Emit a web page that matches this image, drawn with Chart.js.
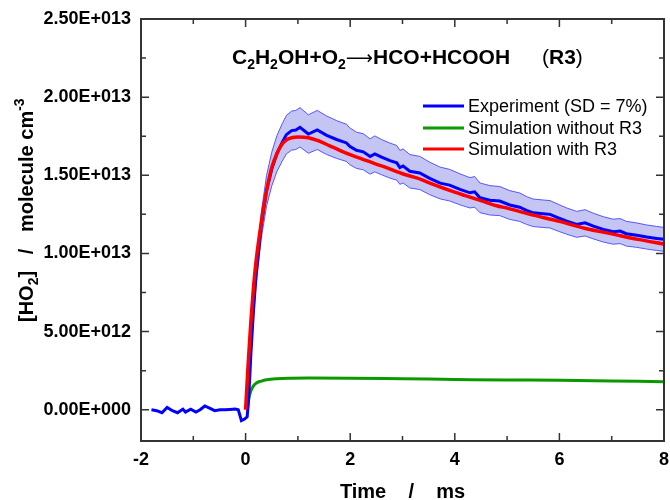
<!DOCTYPE html>
<html>
<head>
<meta charset="utf-8">
<script src="https://cdn.jsdelivr.net/npm/chart.js@4"></script>
<style>
  html, body { margin: 0; padding: 0; background: #fff; }
  #wrap { width: 670px; height: 500px; position: relative; }
</style>
</head>
<body>
<div id="wrap"><canvas id="chartHO2"></canvas></div>
<script>
// Data (time in ms, [HO2] in units of 1E+012 molecule cm-3)
const expTime = [
  -1.8, -1.7, -1.6, -1.5, -1.4, -1.3, -1.2, -1.15, -1.05, -0.95,
  -0.87, -0.78, -0.68, -0.59, -0.49, -0.4, -0.3, -0.2, -0.14, -0.08,
  -0.02, 0.03, 0.06, 0.1, 0.15, 0.2, 0.3, 0.4, 0.5, 0.6,
  0.7, 0.78, 0.88, 0.96, 1.04, 1.2, 1.37, 1.55, 1.74, 1.93,
  1.99, 2.12, 2.25, 2.38, 2.47, 2.6, 2.76, 2.89, 2.95, 3.01,
  3.14, 3.33, 3.52, 3.72, 3.9, 4.1, 4.29, 4.38, 4.48, 4.67,
  4.86, 5.05, 5.24, 5.37, 5.5, 5.69, 5.82, 5.98, 6.14, 6.33,
  6.49, 6.65, 6.84, 7.03, 7.16, 7.28, 7.48, 7.67, 7.86, 8.0,
];
const expValue = [
  0.0, -0.06, -0.19, 0.15, -0.06, -0.19, 0.04, -0.15, 0.04, -0.15,
  0.0, 0.24, 0.09, -0.06, 0.0, 0.0, 0.02, 0.04, 0.0, -0.7,
  -0.6, -0.45, 0.8, 3.5, 6.3, 8.6, 11.8, 14.0, 15.4, 16.4,
  17.1, 17.6, 17.86, 17.9, 18.07, 17.64, 17.9, 17.56, 17.29, 17.07,
  16.86, 16.6, 16.5, 16.2, 16.37, 16.16, 15.94, 15.8, 15.5, 15.6,
  15.26, 15.15, 14.8, 14.5, 14.37, 14.1, 13.88, 13.94, 13.56, 13.4,
  13.35, 13.1, 12.96, 12.75, 12.6, 12.54, 12.5, 12.28, 12.07, 11.86,
  11.96, 11.75, 11.54, 11.39, 11.43, 11.26, 11.17, 11.05, 10.96, 10.9,
];

// SD band (±7%) read along the experiment from t = 0.06 ms
const bandTime = expTime.slice(22);
const bandUpper = [
  0.86, 3.75, 6.74, 9.2, 12.63, 14.98, 16.48, 17.55,
  18.3, 18.83, 19.11, 19.15, 19.33, 18.87, 19.15, 18.79, 18.5, 18.26,
  18.04, 17.76, 17.66, 17.33, 17.52, 17.29, 17.06, 16.91, 16.59, 16.69,
  16.33, 16.21, 15.84, 15.52, 15.38, 15.09, 14.85, 14.92, 14.51, 14.34,
  14.28, 14.02, 13.87, 13.64, 13.48, 13.42, 13.38, 13.14, 12.91, 12.69,
  12.8, 12.57, 12.35, 12.19, 12.23, 12.05, 11.95, 11.82, 11.73, 11.66,
];
const bandLower = [
  0.74, 3.26, 5.86, 8.0, 10.97, 13.02, 14.32, 15.25,
  15.9, 16.37, 16.61, 16.65, 16.81, 16.41, 16.65, 16.33, 16.08, 15.88,
  15.68, 15.44, 15.35, 15.07, 15.22, 15.03, 14.82, 14.69, 14.42, 14.51,
  14.19, 14.09, 13.76, 13.49, 13.36, 13.11, 12.91, 12.96, 12.61, 12.46,
  12.42, 12.18, 12.05, 11.86, 11.72, 11.66, 11.63, 11.42, 11.23, 11.03,
  11.12, 10.93, 10.73, 10.59, 10.63, 10.47, 10.39, 10.28, 10.19, 10.14,
];

const simTime = [
  0, 0.05, 0.1, 0.15, 0.2, 0.3, 0.4, 0.5, 0.6, 0.7,
  0.8, 0.9, 1.0, 1.2, 1.4, 1.6, 1.8, 2.0, 2.3, 2.6,
  3.0, 3.3, 3.6, 3.9, 4.2, 4.5, 4.8, 5.0, 5.5, 6.0,
  6.5, 7.0, 7.5, 8.0,
];
const simWithR3 = [
  0, 3.0, 5.6, 7.8, 9.5, 12.0, 14.0, 15.5, 16.4, 17.0,
  17.3, 17.42, 17.45, 17.4, 17.2, 16.9, 16.6, 16.32, 15.95, 15.6,
  15.1, 14.8, 14.4, 14.03, 13.7, 13.38, 13.05, 12.9, 12.45, 12.05,
  11.6, 11.25, 10.9, 10.6,
];

const noR3Time = [0.04, 0.06, 0.1, 0.15, 0.2, 0.3, 0.4, 0.6, 0.85, 1.2, 2, 3, 4, 5, 6, 7, 8];
const simWithoutR3 = [0.1, 0.7, 1.2, 1.53, 1.7, 1.83, 1.92, 1.99, 2.02, 2.03, 2.02, 1.98, 1.94, 1.9, 1.89, 1.84, 1.79];

const legendLabels = ["Experiment (SD = 7%)", "Simulation without R3", "Simulation with R3"];
const legendColors = ["#0000ff", "#0a9a00", "#ff0000"];

const fontFamily = "'Liberation Sans', Arial, sans-serif";

function toPoints(xs, ys) {
  return xs.map((x, i) => ({ x: x, y: ys[i] }));
}

// "2.50E+013" style labels
function sciLabel(v) {
  const val = v * 1e12;
  if (Math.abs(val) < 1) return "0.00E+000";
  const e = Math.floor(Math.log10(Math.abs(val)) + 1e-9);
  const m = val / Math.pow(10, e);
  return m.toFixed(2) + "E+" + String(e).padStart(3, "0");
}

function drawRuns(ctx, runs, x, y) {
  let cx = x;
  runs.forEach((r) => {
    ctx.font = r.font;
    ctx.fillText(r.text, cx, y + (r.dy || 0));
    cx += ctx.measureText(r.text).width;
  });
}

const overlay = {
  id: "overlay",
  afterDraw(chart) {
    const { ctx, chartArea: a, scales } = chart;
    const x = scales.x, y = scales.y;
    ctx.save();

    // inward ticks on all four sides
    ctx.strokeStyle = "#333";
    ctx.lineWidth = 1.5;
    ctx.beginPath();
    for (let t = -1; t < 8; t++) {
      const px = x.getPixelForValue(t);
      const len = t % 2 === 0 ? 8 : 5;
      ctx.moveTo(px, a.bottom); ctx.lineTo(px, a.bottom - len);
      ctx.moveTo(px, a.top); ctx.lineTo(px, a.top + len);
    }
    for (let v = 0; v < 25; v += 2.5) {
      const py = y.getPixelForValue(v);
      const len = v % 5 === 0 ? 8 : 5;
      ctx.moveTo(a.left, py); ctx.lineTo(a.left + len, py);
      ctx.moveTo(a.right, py); ctx.lineTo(a.right - len, py);
    }
    ctx.stroke();

    // frame
    ctx.lineWidth = 2;
    ctx.strokeRect(a.left, a.top, a.right - a.left, a.bottom - a.top);

    ctx.fillStyle = "#000";
    ctx.textBaseline = "alphabetic";
    ctx.textAlign = "left";

    // reaction title
    const bT = "bold 21px " + fontFamily;
    const rT = "21px " + fontFamily;
    const sub = "bold 14px " + fontFamily;
    drawRuns(ctx, [
      { text: "C", font: bT }, { text: "2", font: sub, dy: 5 },
      { text: "H", font: bT }, { text: "2", font: sub, dy: 5 },
      { text: "OH+O", font: bT }, { text: "2", font: sub, dy: 5 },
      { text: "\u27F6", font: "19px 'DejaVu Sans', sans-serif" },
      { text: "HCO+HCOOH", font: bT },
    ], 232, 64);
    drawRuns(ctx, [
      { text: "(", font: rT }, { text: "R3", font: bT }, { text: ")", font: rT },
    ], 542, 64);

    // legend
    const r18 = "18px " + fontFamily;
    const legendY = [106, 128, 149];
    legendLabels.forEach((label, i) => {
      ctx.strokeStyle = legendColors[i];
      ctx.lineWidth = 3;
      ctx.beginPath();
      ctx.moveTo(423, legendY[i]);
      ctx.lineTo(464, legendY[i]);
      ctx.stroke();
      ctx.font = r18;
      ctx.fillText(label, 468, legendY[i] + 6);
    });

    // x axis title
    ctx.font = "bold 20px " + fontFamily;
    ctx.textAlign = "center";
    ctx.fillText("Time    /    ms", (a.left + a.right) / 2, 498);

    // y axis title
    ctx.textAlign = "left";
    ctx.translate(33, 322);
    ctx.rotate(-Math.PI / 2);
    const b20 = "bold 20px " + fontFamily;
    const b14 = "bold 14px " + fontFamily;
    drawRuns(ctx, [
      { text: "[HO", font: b20 }, { text: "2", font: b14, dy: 5 },
      { text: "]   /   molecule cm", font: b20 }, { text: "-3", font: b14, dy: -9 },
    ], 0, 0);

    ctx.restore();
  },
};

const ctx = document.getElementById("chartHO2").getContext("2d");
new Chart(ctx, {
  type: "line",
  data: {
    datasets: [
      {
        label: "Simulation with R3",
        data: toPoints(simTime, simWithR3),
        borderColor: "#ff0000",
        borderWidth: 3.5,
        pointRadius: 0,
        cubicInterpolationMode: "monotone",
        fill: false,
      },
      {
        label: "Experiment (SD = 7%)",
        data: toPoints(expTime, expValue),
        borderColor: "#0000ff",
        borderWidth: 3,
        pointRadius: 0,
        tension: 0,
        fill: false,
      },
      {
        label: "Simulation without R3",
        data: toPoints(noR3Time, simWithoutR3),
        borderColor: "#0a9a00",
        borderWidth: 3,
        pointRadius: 0,
        cubicInterpolationMode: "monotone",
        fill: false,
      },
      {
        label: "SD upper",
        data: toPoints(bandTime, bandUpper),
        borderColor: "rgba(70, 70, 255, 0.9)",
        backgroundColor: "rgba(90, 90, 220, 0.35)",
        borderWidth: 1,
        pointRadius: 0,
        tension: 0,
        fill: "+1",
      },
      {
        label: "SD lower",
        data: toPoints(bandTime, bandLower),
        borderColor: "rgba(70, 70, 255, 0.9)",
        borderWidth: 1,
        pointRadius: 0,
        tension: 0,
        fill: false,
      },
    ],
  },
  options: {
    responsive: true,
    maintainAspectRatio: false,
    animation: false,
    layout: { padding: { top: 19, right: 6, left: 0, bottom: 0 } },
    plugins: {
      legend: { display: false },
      tooltip: { enabled: false },
    },
    scales: {
      x: {
        type: "linear",
        min: -2,
        max: 8,
        grid: { display: false },
        border: { display: false },
        ticks: {
          stepSize: 2,
          padding: 0,
          color: "#000",
          font: { family: fontFamily, size: 18, weight: "bold" },
        },
        afterFit: (scale) => { scale.height = 59; },
      },
      y: {
        type: "linear",
        min: -2,
        max: 25,
        grid: { display: false },
        border: { display: false },
        ticks: {
          stepSize: 5,
          includeBounds: false,
          padding: 2,
          color: "#000",
          font: { family: fontFamily, size: 18, weight: "bold" },
          callback: (v) => sciLabel(v),
        },
        afterFit: (scale) => { scale.width = 141; },
      },
    },
  },
  plugins: [overlay],
});
</script>
</body>
</html>
